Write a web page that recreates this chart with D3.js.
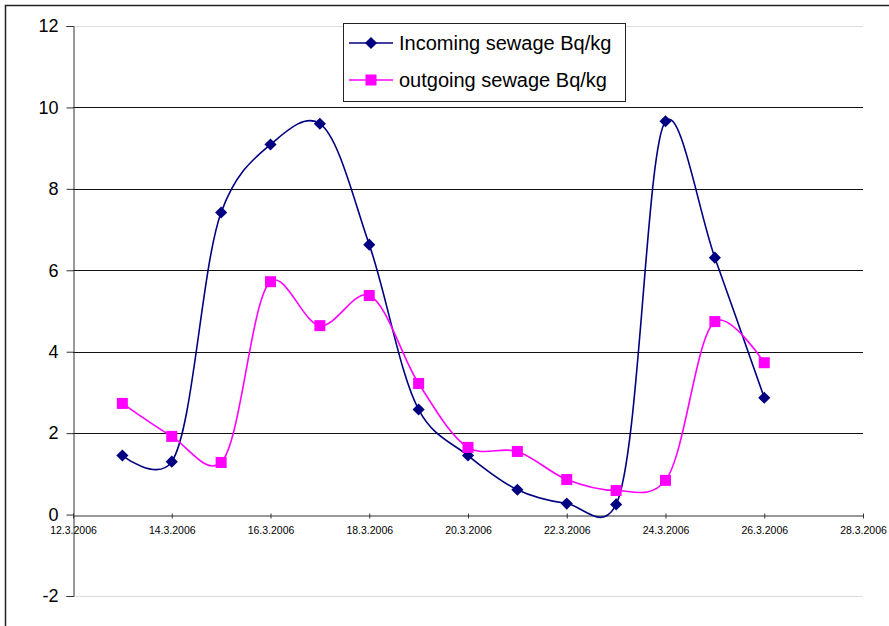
<!DOCTYPE html>
<html><head><meta charset="utf-8">
<script src="https://cdn.jsdelivr.net/npm/d3@7"></script>
<style>body{margin:0;background:#fff}svg{display:block}text{font-family:Arial,"Liberation Sans",sans-serif}</style>
</head><body>
<svg id="c" width="889" height="626"></svg>
<script>
const dates = ["13.3.2006","14.3.2006","15.3.2006","16.3.2006","17.3.2006","18.3.2006","19.3.2006","20.3.2006","21.3.2006","22.3.2006","23.3.2006","24.3.2006","25.3.2006","26.3.2006"];
const incoming = [1.45,1.3,7.42,9.09,9.6,6.63,2.58,1.45,0.61,0.27,0.25,9.66,6.31,2.87];
const outgoing = [2.73,1.92,1.28,5.72,4.64,5.38,3.22,1.65,1.55,0.86,0.59,0.84,4.74,3.73];
const xTicks = ["12.3.2006","14.3.2006","16.3.2006","18.3.2006","20.3.2006","22.3.2006","24.3.2006","26.3.2006","28.3.2006"];
const yTicks = [-2,0,2,4,6,8,10,12];
const seriesNames = ["Incoming sewage Bq/kg","outgoing sewage Bq/kg"];

const parse = d3.timeParse("%d.%m.%Y");
const fmt = d3.timeFormat("%-d.%-m.%Y");
const svg = d3.select("#c");
const L=73, R=863, T=26, B=596;
const x = d3.scaleTime().domain([parse(xTicks[0]), parse(xTicks[xTicks.length-1])]).range([L,R]);
const y = d3.scaleLinear().domain([-2,12]).range([B,T]);

// outer frame
svg.append("path").attr("d",`M5.5,626 V5.5 H889`).attr("fill","none").attr("stroke","#222").attr("stroke-width",1.5);

// plot area light border
svg.append("line").attr("x1",L).attr("x2",R).attr("y1",T+0.5).attr("y2",T+0.5).attr("stroke","#ddd");
svg.append("line").attr("x1",L).attr("x2",R).attr("y1",B+0.5).attr("y2",B+0.5).attr("stroke","#ddd");

// gridlines
svg.append("g").selectAll("line").data(yTicks.filter(v=>v>-2 && v<12 && v!==0)).join("line")
  .attr("x1",L).attr("x2",R).attr("y1",d=>Math.round(y(d))+0.5).attr("y2",d=>Math.round(y(d))+0.5)
  .attr("stroke","#111").attr("stroke-width",1);

// y axis
const yAxis = d3.axisLeft(y).tickValues(yTicks).tickSize(7).tickPadding(8).tickFormat(d3.format("d"));
const gy = svg.append("g").attr("transform",`translate(${L+0.5},0)`).call(yAxis);
gy.select(".domain").attr("stroke","#333");
gy.selectAll(".tick line").attr("stroke","#333");
gy.selectAll("text").attr("font-size",18).attr("fill","#000").attr("font-family","Arial, 'Liberation Sans', sans-serif").text(d=>d<0?"-"+Math.abs(d):d);

// x axis at y=0
const xAxis = d3.axisBottom(x).tickValues(xTicks.map(parse)).tickSize(0).tickPadding(11).tickFormat(fmt);
const gx = svg.append("g").attr("transform",`translate(0,${Math.round(y(0))+0.5})`).call(xAxis);
gx.select(".domain").attr("stroke","#333").attr("stroke-width",1.2);
gx.selectAll(".tick line").remove();
gx.selectAll(".tick").append("line").attr("y1",-2).attr("y2",3).attr("stroke","#333");
gx.selectAll("text").attr("font-size",10.5).attr("fill","#000").attr("font-family","Arial, 'Liberation Sans', sans-serif");

const line = d3.line().x((d,i)=>x(parse(dates[i]))).y(d=>y(d)).curve(d3.curveCatmullRom.alpha(0.25));

const colors = ["#000080","#ff00ff"];
[incoming,outgoing].forEach((s,k)=>{
  svg.append("path").datum(s).attr("d",line).attr("fill","none").attr("stroke",colors[k]).attr("stroke-width",1.6);
});
// markers
svg.append("g").selectAll("path").data(incoming).join("path")
  .attr("d",d3.symbol().type(d3.symbolSquare).size(74))
  .attr("transform",(d,i)=>`translate(${x(parse(dates[i]))},${y(d)}) rotate(45)`)
  .attr("fill","#000080");
svg.append("g").selectAll("rect").data(outgoing).join("rect")
  .attr("x",(d,i)=>x(parse(dates[i]))-5.5).attr("y",d=>y(d)-5.5).attr("width",11).attr("height",11)
  .attr("fill","#ff00ff");

// legend
const lg = svg.append("g");
lg.append("rect").attr("x",343.5).attr("y",23.5).attr("width",282).attr("height",78).attr("fill","#fff").attr("stroke","#222");
seriesNames.forEach((n,k)=>{
  const cy = k===0?43:80;
  lg.append("line").attr("x1",349).attr("x2",393).attr("y1",cy).attr("y2",cy).attr("stroke",colors[k]).attr("stroke-width",1.6);
  if(k===0) lg.append("path").attr("d",d3.symbol().type(d3.symbolSquare).size(74)).attr("transform",`translate(371,${cy}) rotate(45)`).attr("fill",colors[0]);
  else lg.append("rect").attr("x",365.5).attr("y",cy-5.5).attr("width",11).attr("height",11).attr("fill",colors[1]);
  lg.append("text").attr("x",399).attr("y",cy+7).attr("font-size",20).attr("fill","#000").text(n);
});
</script>
</body></html>
